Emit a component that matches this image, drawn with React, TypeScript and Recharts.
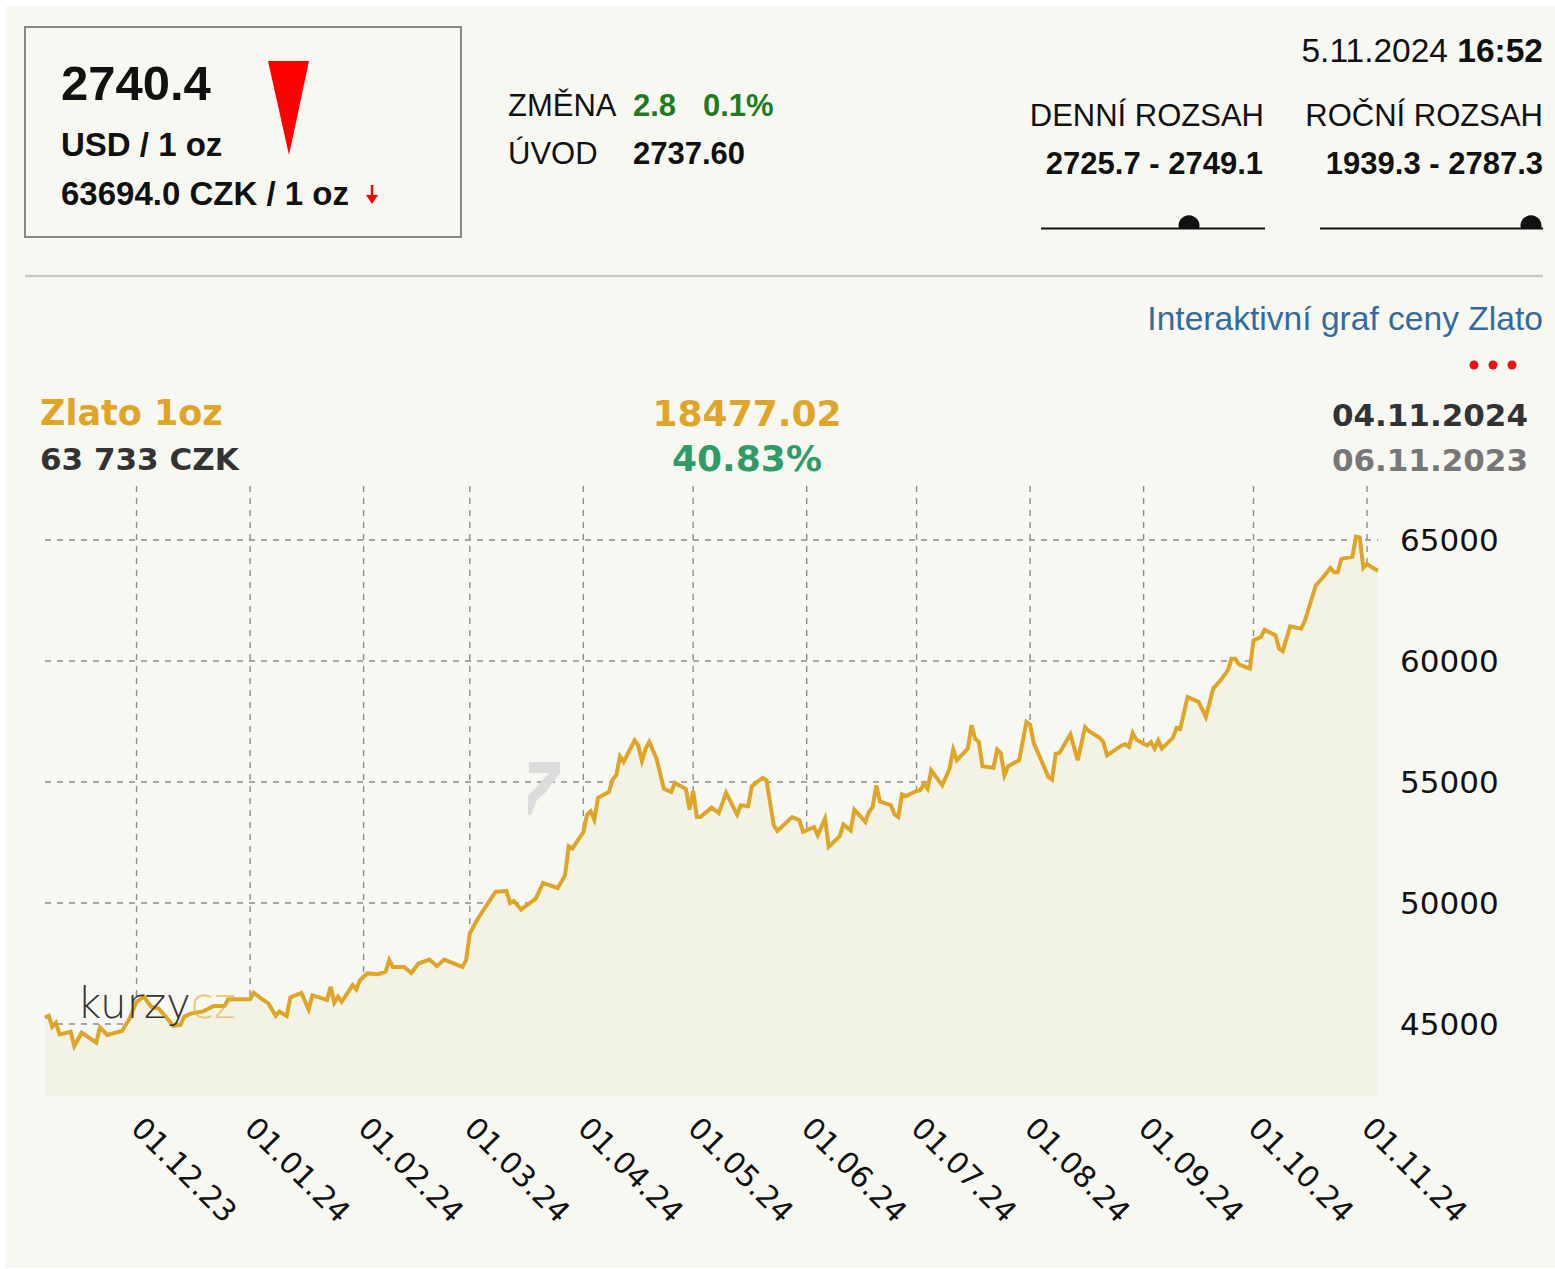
import React from 'react'
import { ComposedChart, Area, XAxis, YAxis, CartesianGrid } from 'recharts'

// days since 06.11.2023 and the CZK price of 1 oz of gold
const START = Date.UTC(2023, 10, 6)

const dayOffsets = [
  0, 1, 2, 3, 4, 7, 8, 10, 14, 15, 17, 21, 23, 25, 27, 29, 31, 33, 35, 37, 38, 40, 43, 46, 49, 50, 53, 56, 57, 59,
  61, 63, 64, 66, 67, 70, 72, 73, 77, 78, 79, 80, 81, 84, 85, 86, 88, 91, 93, 94, 95, 98, 100, 102, 105, 107, 109, 114, 115, 116,
  118, 121, 123, 126, 127, 128, 130, 134, 136, 140, 142, 143, 144, 147, 148, 149, 150, 151, 154, 155,
  156, 157, 158, 161, 162, 163, 164, 165, 167, 169, 171, 172, 174, 175, 176, 177, 178, 179, 182, 184,
  186, 189, 190, 192, 193, 195, 196, 197, 199, 200, 204, 206, 207, 210, 211, 213, 214, 217, 218, 220,
  221, 224, 225, 226, 227, 228, 231, 232, 233, 234, 235, 238, 239, 240, 241, 242, 245, 247, 248, 249,
  252, 253, 254, 255, 256, 259, 260, 261, 262, 263, 266, 268, 269, 270, 274, 275, 276, 277, 280, 282,
  284, 285, 288, 289, 290, 294, 295, 296, 297, 298, 300, 301, 302, 303, 304, 305, 308, 309, 310,
  312, 315, 317, 319, 321, 323, 324, 325, 326, 329, 330, 332, 333, 336, 337, 338, 340, 343, 344, 347,
  349, 351, 352, 353, 354, 357, 358, 359, 360, 361, 362, 364,
]

const czkValues = [
  45260, 45340, 44890, 45050, 44570, 44680, 44090, 44640, 44230, 44860, 44550, 44710, 45190, 45920, 46130,
  45710, 45640, 45300, 44920, 44960, 45300, 45440, 45510, 45740, 45740, 46020, 46020, 46020, 46290, 46060,
  45850, 45340, 45510, 45330, 46100, 46290, 45600, 46190, 45990, 46540, 45880, 46130, 45920, 46610, 46430,
  46810, 47090, 47060, 47160, 47640, 47360, 47360, 47110, 47500, 47660, 47390, 47660, 47360, 47640, 48740,
  49310, 50000, 50460, 50500, 50000, 50080, 49730, 50180, 50830, 50620, 51140, 52340, 52250, 52930, 53650,
  53790, 53440, 54350, 54590, 55100, 55280, 56060, 55830, 56720, 56510, 55870, 56380, 56650, 55960, 54720,
  54590, 54960, 54790, 54720, 53860, 54630, 53550, 53550, 53940, 53720, 54550, 53650, 54040, 54000, 54820,
  55070, 55170, 55070, 53210, 52980, 53550, 53420, 52940, 53140, 52800, 53490, 52320, 52760, 53250, 53000,
  53860, 53350, 53760, 53970, 54860, 54200, 54040, 53660, 53550, 54490, 54410, 54630, 54660, 54930, 54720,
  55480, 54860, 55550, 56340, 55900, 56380, 57340, 56790, 56650, 55650, 55590, 56340, 56200, 55280, 55650,
  55900, 57480, 57370, 56610, 55210, 55100, 56170, 56200, 56970, 55900, 57270, 57110, 56830, 56650, 56100,
  56510, 56560, 56450, 57020, 56750, 56580, 56510, 56650, 56380, 56720, 56380, 56830, 57240, 57200,
  58510, 58310, 57690, 58860, 59200, 59610, 60090, 60090, 59860, 59680, 60850, 60990, 61290, 61060, 60510,
  60410, 61430, 61330, 61650, 63120, 63460, 63850, 63670, 63670, 64220, 64310, 65140, 65110, 63850, 64010,
  63900, 63733,
]

const monthStarts = [
  '2023-12-01', '2024-01-01', '2024-02-01', '2024-03-01', '2024-04-01', '2024-05-01',
  '2024-06-01', '2024-07-01', '2024-08-01', '2024-09-01', '2024-10-01', '2024-11-01',
]
const monthLabels = [
  '01.12.23', '01.01.24', '01.02.24', '01.03.24', '01.04.24', '01.05.24',
  '01.06.24', '01.07.24', '01.08.24', '01.09.24', '01.10.24', '01.11.24',
]
const yTicks = [45000, 50000, 55000, 60000, 65000]

const data = dayOffsets.map((day, i) => ({ day, czk: czkValues[i] }))
const toDay = (iso: string) => Math.round((Date.parse(iso + 'T00:00:00Z') - START) / 86400000)
const monthTicks = monthStarts.map(toDay)

const GOLD = '#e0a526'
const HEAD = "'Liberation Sans', Arial, Helvetica, sans-serif"
const VER = "'DejaVu Sans', Verdana, sans-serif"

function DateTick({ x, y, payload }: any) {
  const i = monthTicks.indexOf(payload.value)
  const tx = x - 7
  return (
    <text
      x={tx}
      y={y}
      transform={`rotate(45, ${tx}, ${y})`}
      textAnchor="start"
      fontFamily={VER}
      fontSize={30}
      fill="#111"
    >
      {monthLabels[i]}
    </text>
  )
}

function Slider({ x1, x2, dot }: { x1: number; x2: number; dot: number }) {
  return (
    <g>
      <line x1={x1} y1={228.5} x2={x2} y2={228.5} stroke="#111" strokeWidth={2} />
      <path d={`M${dot - 10},229 A10.5,10.5 0 1 1 ${dot + 10},229 Z`} fill="#111" />
    </g>
  )
}

export default function App() {
  return (
    <div style={{ position: 'absolute', left: 0, top: 0, width: 1555, height: 1269, background: '#fff' }}>
      <div style={{ position: 'absolute', left: 6, top: 6, width: 1549, height: 1262, background: '#f8f8f3' }} />
      <div style={{ position: 'absolute', left: 0, top: 0 }}>
        <ComposedChart
          width={1555}
          height={1269}
          data={data}
          margin={{ top: 486, right: 0, bottom: 0, left: 45 }}
        >
          <CartesianGrid stroke="#8c8c8c" strokeDasharray="6 6" strokeWidth={1.4} syncWithTicks />
          <XAxis
            dataKey="day"
            type="number"
            domain={[0, 364]}
            ticks={monthTicks}
            interval={0}
            axisLine={false}
            tickLine={false}
            tickSize={0}
            tickMargin={34}
            height={173}
            tick={<DateTick />}
          />
          <YAxis
            orientation="right"
            domain={[42025, 67231]}
            ticks={yTicks}
            allowDataOverflow
            axisLine={false}
            tickLine={false}
            tickSize={0}
            tickMargin={22}
            width={177}
            tick={{ fill: '#111', fontSize: 31, fontFamily: VER }}
          />
          <Area
            type="linear"
            dataKey="czk"
            stroke={GOLD}
            strokeWidth={4}
            fill="#f3f2e6"
            fillOpacity={1}
            dot={false}
            activeDot={false}
            isAnimationActive={false}
          />
        </ComposedChart>
      </div>
      <svg
        width={1555}
        height={1269}
        style={{ position: 'absolute', left: 0, top: 0, pointerEvents: 'none' }}
      >
        {/* price box */}
        <rect x={25} y={27} width={436} height={210} fill="none" stroke="#888" strokeWidth={2} />
        <text x={61} y={100} fontFamily={HEAD} fontWeight="bold" fontSize={49} fill="#111">2740.4</text>
        <polygon points="268,61 309,61 289,155" fill="#ff0000" />
        <text x={61} y={156} fontFamily={HEAD} fontWeight="bold" fontSize={33} fill="#111">USD / 1 oz</text>
        <text x={61} y={205} fontFamily={HEAD} fontWeight="bold" fontSize={33} fill="#111">63694.0 CZK / 1 oz</text>
        <line x1={372} y1={185} x2={372} y2={197} stroke="#ff0000" strokeWidth={2.5} />
        <polygon points="366,195 378,195 372,204" fill="#ff0000" />

        <text x={508} y={116} fontFamily={HEAD} fontSize={31} fill="#111">ZMĚNA</text>
        <text x={633} y={116} fontFamily={HEAD} fontWeight="bold" fontSize={31} fill="#1e7b1e">2.8</text>
        <text x={703} y={116} fontFamily={HEAD} fontWeight="bold" fontSize={31} fill="#1e7b1e">0.1%</text>
        <text x={508} y={164} fontFamily={HEAD} fontSize={31} fill="#111">ÚVOD</text>
        <text x={633} y={164} fontFamily={HEAD} fontWeight="bold" fontSize={31} fill="#111">2737.60</text>

        <text x={1543} y={62} textAnchor="end" fontFamily={HEAD} fontSize={33.5} fill="#111">
          5.11.2024 <tspan fontWeight="bold">16:52</tspan>
        </text>
        <text x={1264} y={126} textAnchor="end" fontFamily={HEAD} fontSize={31} fill="#111">DENNÍ ROZSAH</text>
        <text x={1543} y={126} textAnchor="end" fontFamily={HEAD} fontSize={31} fill="#111">ROČNÍ ROZSAH</text>
        <text x={1263} y={174} textAnchor="end" fontFamily={HEAD} fontWeight="bold" fontSize={31} fill="#111">2725.7 - 2749.1</text>
        <text x={1543} y={174} textAnchor="end" fontFamily={HEAD} fontWeight="bold" fontSize={31} fill="#111">1939.3 - 2787.3</text>
        <Slider x1={1041} x2={1265} dot={1189} />
        <Slider x1={1320} x2={1543} dot={1531} />

        <line x1={25} y1={276} x2={1543} y2={276} stroke="#c8c8c8" strokeWidth={2.5} />
        <text x={1543} y={330} textAnchor="end" fontFamily={HEAD} fontSize={33.6} fill="#336b9c">Interaktivní graf ceny Zlato</text>
        <circle cx={1474} cy={365} r={4.5} fill="#ee1111" />
        <circle cx={1493} cy={365} r={4.5} fill="#ee1111" />
        <circle cx={1512} cy={365} r={4.5} fill="#ee1111" />

        {/* chart header */}
        <text x={40} y={425} fontFamily={VER} fontWeight="bold" fontSize={35} fill={GOLD}>Zlato 1oz</text>
        <text x={40} y={470} fontFamily={VER} fontWeight="bold" fontSize={31} fill="#333">63 733 CZK</text>
        <text x={747} y={426} textAnchor="middle" fontFamily={VER} fontWeight="bold" fontSize={36} fill={GOLD}>18477.02</text>
        <text x={747} y={471} textAnchor="middle" fontFamily={VER} fontWeight="bold" fontSize={36} fill="#2f9b66">40.83%</text>
        <text x={1528} y={426} textAnchor="end" fontFamily={VER} fontWeight="bold" fontSize={31} fill="#333">04.11.2024</text>
        <text x={1528} y={471} textAnchor="end" fontFamily={VER} fontWeight="bold" fontSize={31} fill="#777">06.11.2023</text>

        {/* watermarks */}
        <polygon points="529,762 560,762 560,773 546,792 537,800 531,815 528,815 528,796 549,773 529,773" fill="#dcdcdc" />
        <text x={77} y={1018} fontFamily={VER} fontWeight={200} fontSize={42} fill="#333">
          kurzy<tspan fill="#e6b84a" fillOpacity={0.8}>cz</tspan>
        </text>
      </svg>
    </div>
  )
}
